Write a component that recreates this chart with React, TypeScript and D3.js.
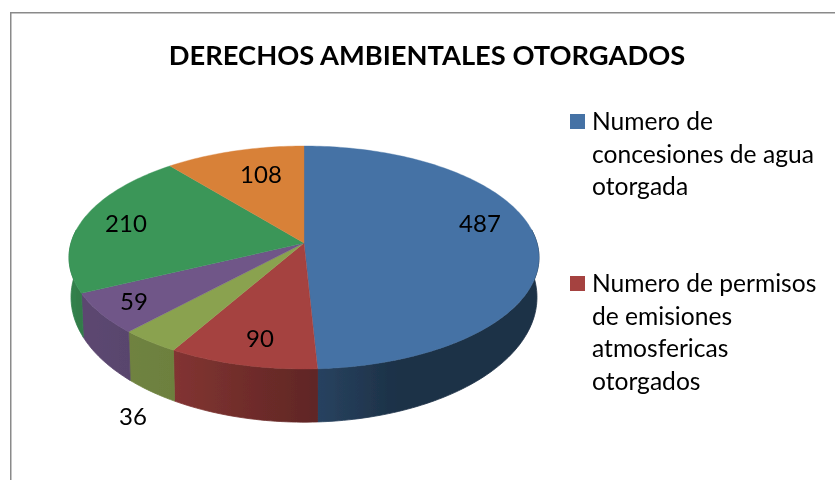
import React from "react";
import * as d3 from "d3";

const title = "DERECHOS AMBIENTALES OTORGADOS";
const values = [487, 90, 36, 59, 210, 108];
const sliceColors = ["#4472a5", "#a5423f", "#8aa24f", "#6f5688", "#3a9659", "#d88139"];
const valueLabelPositions = [
  [480, 224],
  [260, 339],
  [133, 417],
  [134, 302],
  [126, 224],
  [261, 175],
];
const legendEntries = [
  { color: "#4472a5", lines: ["Numero de", "concesiones de agua", "otorgada"] },
  { color: "#a5423f", lines: ["Numero de permisos", "de emisiones", "atmosfericas", "otorgados"] },
];
const legendTops = [130, 292];
const shadeAngles = [0, 90, 160, 177, 210, 245, 270, 360];
const shadeLevels = [0.5, 0.42, 0.43, 0.58, 0.79, 0.83, 0.85, 0.85];

const FONT = "Lato, 'Open Sans', sans-serif";
const shade = d3.scaleLinear<number>().domain(shadeAngles).range(shadeLevels);
const persp = 0.13;
const rad = d3.scaleLinear().domain([0, 180]).range([0, Math.PI]);
const visibleFrom = rad(83);
const visibleTo = rad(277);

type Disk = { cx: number; cy: number; rx: number; ky: number };
const topDisk: Disk = { cx: 304, cy: 243, rx: 233, ky: 109.6 };
const baseDisk: Disk = { cx: 304, cy: 281, rx: 231, ky: 122.8 };

const project = (d: Disk, a: number): [number, number] => {
  const u = Math.sin(a);
  const v = -Math.cos(a);
  const w = 1 - persp * v;
  return [d.cx + (d.rx * u) / w, d.cy + (d.ky * v) / w];
};

const arcs = d3.pie<number>().sort(null)(values);
const line = d3.line();

const range = (a0: number, a1: number, step: number) => {
  const n = Math.max(1, Math.ceil((a1 - a0) / step));
  return d3.range(n + 1).map((i) => a0 + ((a1 - a0) * i) / n);
};

const darken = (c: string, k: number) => {
  const r = d3.rgb(c);
  return d3.rgb(r.r * k, r.g * k, r.b * k).formatHex();
};

export default function App() {
  return (
    <svg width={835} height={480} style={{ position: "absolute", left: 0, top: 0, background: "#fff" }}>
      <defs>
        <filter id="soft" x="0" y="0" width="100%" height="100%">
          <feGaussianBlur stdDeviation={0.4} />
        </filter>
        {arcs.map((s, i) => {
          const a0 = Math.max(s.startAngle, visibleFrom);
          const a1 = Math.min(s.endAngle, visibleTo);
          if (a1 <= a0) return null;
          const x1 = project(topDisk, a0)[0];
          const x2 = project(topDisk, a1)[0];
          return (
            <linearGradient key={i} id={`wall${i}`} gradientUnits="userSpaceOnUse" x1={x1} x2={x2} y1={0} y2={0}>
              {range(a0, a1, 0.08).map((a, j) => (
                <stop
                  key={j}
                  offset={(project(topDisk, a)[0] - x1) / (x2 - x1)}
                  stopColor={darken(sliceColors[i], shade((a * 180) / Math.PI))}
                />
              ))}
            </linearGradient>
          );
        })}
      </defs>
      <g filter="url(#soft)">
        <path d="M10.5 480V12.5H835" fill="none" stroke="#8a8a8a" strokeWidth={2} />
        <text x={427} y={64.5} textAnchor="middle" fontFamily={FONT} fontWeight={700} fontSize={27.3} fill="#000">
          {title}
        </text>
        {arcs.map((s, i) => {
          const a0 = Math.max(s.startAngle, visibleFrom);
          const a1 = Math.min(s.endAngle, visibleTo);
          if (a1 <= a0) return null;
          const as = range(a0, a1, 0.02);
          const d =
            line([
              ...as.map((a) => project(topDisk, a)),
              ...as.slice().reverse().map((a) => project(baseDisk, a)),
            ]) + "Z";
          return <path key={`w${i}`} d={d} fill={`url(#wall${i})`} stroke={`url(#wall${i})`} strokeWidth={0.8} />;
        })}
        {arcs.map((s, i) => {
          const pts = range(s.startAngle, s.endAngle, 0.02).map((a) => project(topDisk, a));
          const d = line([[topDisk.cx, topDisk.cy], ...pts]) + "Z";
          return <path key={`t${i}`} d={d} fill={sliceColors[i]} stroke={sliceColors[i]} strokeWidth={0.4} />;
        })}
        {values.map((v, i) => (
          <text
            key={`l${i}`}
            x={valueLabelPositions[i][0]}
            y={valueLabelPositions[i][1] + 8}
            textAnchor="middle"
            fontFamily={FONT}
            fontSize={24}
            fill="#000"
          >
            {v}
          </text>
        ))}
        {legendEntries.map((e, i) => (
          <g key={`g${i}`}>
            <rect x={570} y={legendTops[i] - 16} width={15} height={15} fill={e.color} />
            {e.lines.map((t, j) => (
              <text key={j} x={592} y={legendTops[i] + j * 32.6} fontFamily={FONT} fontSize={24.6} fill="#000">
                {t}
              </text>
            ))}
          </g>
        ))}
      </g>
    </svg>
  );
}
